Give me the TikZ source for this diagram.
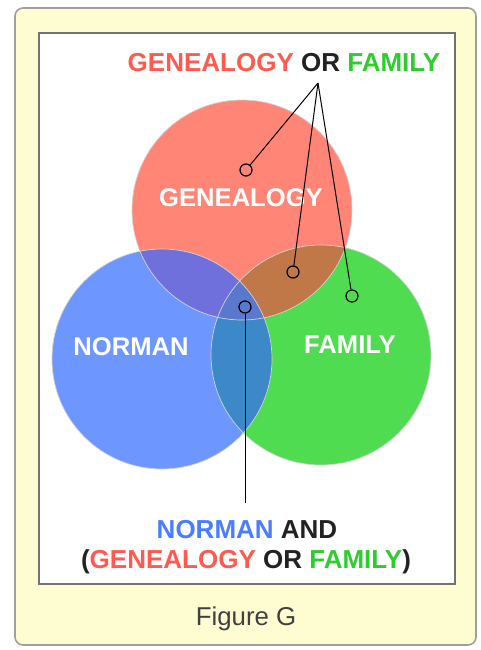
\documentclass[tikz,border=0pt]{standalone}
\usepackage{fontspec}
\setmainfont{Liberation Sans}

\definecolor{genred}{HTML}{FF8577}
\definecolor{normblue}{HTML}{6E96FF}
\definecolor{famgreen}{HTML}{50DC50}
\definecolor{redblue}{HTML}{7070DD}
\definecolor{redgreen}{HTML}{C07848}
\definecolor{bluegreen}{HTML}{3C88C8}
\definecolor{allthree}{HTML}{5A78CC}
\definecolor{txtred}{HTML}{FF5A50}
\definecolor{txtgreen}{HTML}{2ECC2E}
\definecolor{txtblue}{HTML}{4A7DFF}
\definecolor{txtdark}{HTML}{222222}
\definecolor{framefill}{HTML}{FEFDD2}

\tikzset{
  lbl/.style={font=\fontsize{26}{30}\selectfont\bfseries, text=txtdark, inner sep=0pt},
  setlbl/.style={lbl, font=\fontsize{25.6}{30}\selectfont\bfseries, text=white},
  pin/.style={circle, draw, line width=1.2pt, minimum size=12pt, inner sep=0pt},
  lead/.style={line width=1pt},
}

\begin{document}
\begin{tikzpicture}[x=1pt,y=-1pt]

\useasboundingbox (0,0) rectangle (481,650);

% frame
\draw[gray!75, line width=1.6pt, fill=framefill, rounded corners=8pt] (15,8) rectangle (476,645);
\draw[black!55, line width=1.8pt, fill=white] (39,33) rectangle (455,584);

% the three sets
\def\rad{110pt}
\coordinate (G) at (242,210);
\coordinate (N) at (162,359);
\coordinate (F) at (321,355);

\fill[genred] (G) circle[radius=\rad];
\fill[normblue] (N) circle[radius=\rad];
\fill[famgreen] (F) circle[radius=\rad];

\begin{scope}
  \clip (G) circle[radius=\rad];
  \fill[redblue] (N) circle[radius=\rad];
  \fill[redgreen] (F) circle[radius=\rad];
\end{scope}
\begin{scope}
  \clip (N) circle[radius=\rad];
  \fill[bluegreen] (F) circle[radius=\rad];
  \clip (F) circle[radius=\rad];
  \fill[allthree] (G) circle[radius=\rad];
\end{scope}

\foreach \c in {G,N,F}
  \draw[gray!35, line width=0.7pt] (\c) circle[radius=\rad];

\node[setlbl, anchor=base] (gen) at (241,206) {GENEALOGY};
\node[setlbl, anchor=base] (nor) at (131,355) {NORMAN};
\node[setlbl, anchor=base] (fam) at (350,353) {FAMILY};

% labels
\node[lbl, anchor=base] (orlbl) at (284,72)
  {\textcolor{txtred}{GENEALOGY} OR \textcolor{txtgreen}{FAMILY}};
\node[lbl, anchor=base] (andlbl) at (247,538)
  {\textcolor{txtblue}{NORMAN} AND};
\node[lbl, anchor=base] (andlbl2) at (246,568)
  {(\textcolor{txtred}{GENEALOGY} OR \textcolor{txtgreen}{FAMILY})};

% pins and leads
\node[pin] (p1) at (246,170) {};
\node[pin] (p2) at (293,272) {};
\node[pin] (p3) at (352,296) {};
\node[pin] (p4) at (245,307) {};

\coordinate (apex) at (318,83);
\coordinate (tail) at (245,503);

\draw[lead] (apex) -- (p1);
\draw[lead] (apex) -- (p2);
\draw[lead] (apex) -- (p3);
\draw[lead] (p4) -- (tail);

\node[font=\fontsize{25.8}{30}\selectfont, text=black!75, anchor=base] (cap) at (246,625) {Figure G};

\end{tikzpicture}
\end{document}
